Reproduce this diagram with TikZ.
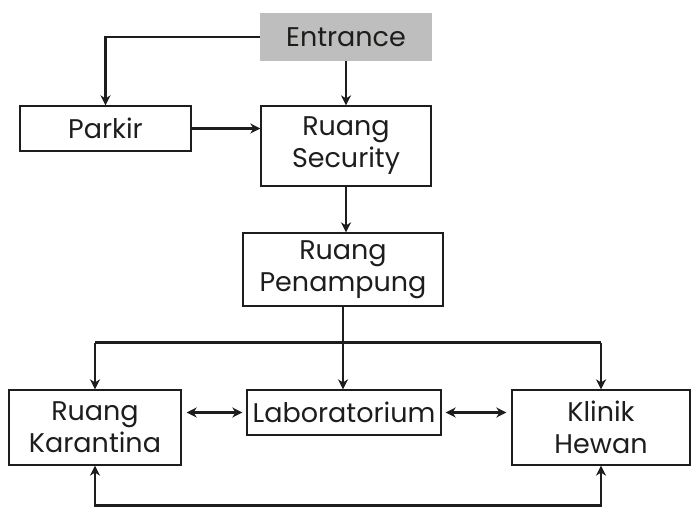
\documentclass[tikz,border=0pt]{standalone}
\usepackage{fontspec}
\setmainfont{Poppins}
\usepackage{tikz}
\usetikzlibrary{arrows.meta,positioning,calc}
\definecolor{ink}{HTML}{1D1D1B}
\definecolor{gatefill}{HTML}{BEBEBE}
\tikzset{
  box/.style={draw=ink, line width=1.2pt, align=center, inner sep=1pt, font=\fontsize{27}{32}\selectfont, text=ink},
  gate/.style={box, fill=gatefill, draw=gatefill},
  arr/.style={-{Stealth[length=10pt,width=10pt,inset=3pt]}, line width=2.5pt, draw=ink},
  biarr/.style={{Stealth[length=10pt,width=10pt,inset=3pt]}-{Stealth[length=10pt,width=10pt,inset=3pt]}, line width=2.5pt, draw=ink},
}

\begin{document}
\begin{tikzpicture}[x=1pt,y=-1pt]
        \useasboundingbox (0,0) rectangle (699,518);
        % rooms
        \node[gate, minimum width=170pt, minimum height=46pt] (entrance) at (346,37) {Entrance};
        \node[box, minimum width=171pt, minimum height=45pt] (parkir) at (105.5,128.5) {Parkir};
        \node[box, minimum width=170pt, minimum height=80pt] (security) at (346,146) {Ruang\\Security};
        \node[box, minimum width=200pt, minimum height=73pt] (penampung) at (343,269.5) {Ruang\\Penampung};
        \node[box, minimum width=172pt, minimum height=75pt] (karantina) at (95,427.5) {Ruang\\Karantina};
        \node[box, minimum width=194pt, minimum height=45pt] (lab) at (344,412.5) {Laboratorium};
        \node[box, minimum width=178pt, minimum height=75pt] (klinik) at (601,427.5) {Klinik\\Hewan};
        \coordinate (split) at ($(penampung.south)+(0,36)$);
        \coordinate (loop) at ($(karantina.south)+(0,40)$);
        % flow
        \draw[arr] (entrance.west) -| (parkir.north);
        \draw[arr] (entrance.south) -- (entrance.south |- security.north);
        \draw[arr] (parkir.east) -- (parkir.east -| security.west);
        \draw[arr] (security.south) -- (security.south |- penampung.north);
        \draw[arr] (penampung.south) -- (penampung.south |- lab.north);
        \draw[line width=2.5pt, draw=ink] (split -| karantina) -- (split -| klinik);
        \draw[arr] (split -| karantina) -- (karantina.north);
        \draw[arr] (split -| klinik) -- (klinik.north);
        \draw[biarr, shorten <=5pt, shorten >=4pt] (karantina.east |- lab) -- (lab.west);
        \draw[biarr, shorten <=4pt, shorten >=5pt] (lab.east) -- (klinik.west |- lab);
        \draw[biarr] (karantina.south) -- (loop) -| (klinik.south);
      \end{tikzpicture}
\end{document}
